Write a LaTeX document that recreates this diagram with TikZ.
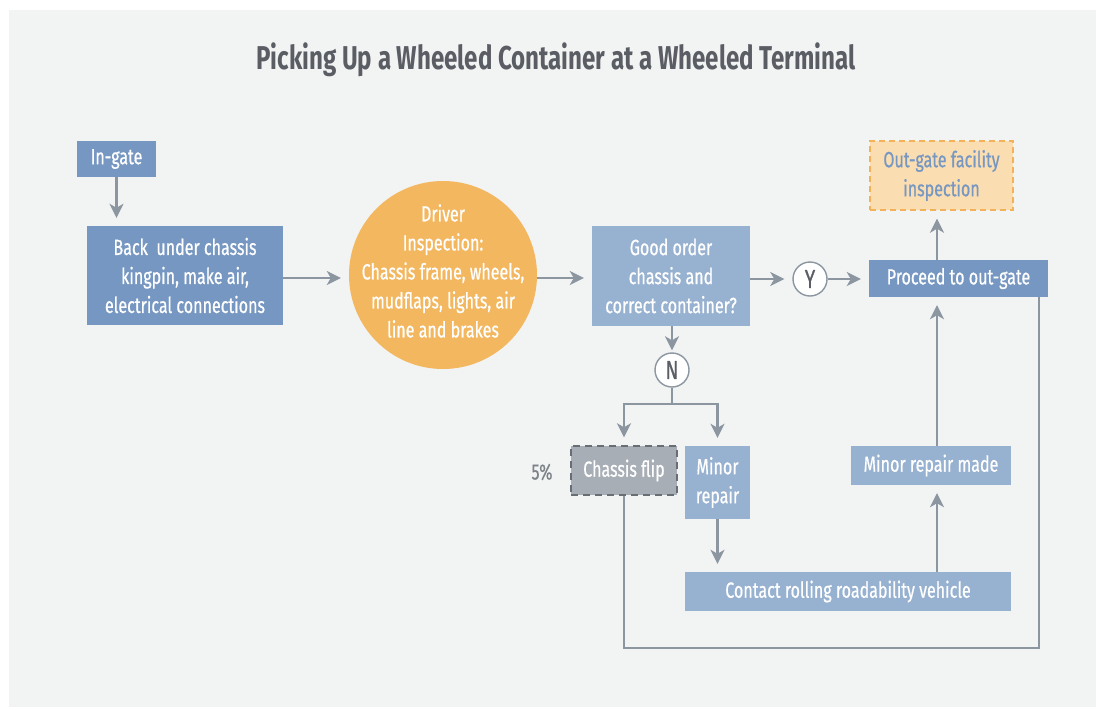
\documentclass[tikz,border=0pt]{standalone}
\usepackage{fontspec}
\setmainfont{Fira Sans}[FakeStretch=0.73, UprightFeatures={FakeBold=0.6}]
\usetikzlibrary{arrows.meta,calc}
\definecolor{panel}{RGB}{242,243,243}
\definecolor{midblue}{RGB}{118,151,193}
\definecolor{lightblue}{RGB}{151,177,208}
\definecolor{orangefill}{RGB}{243,183,96}
\definecolor{peach}{RGB}{251,221,178}
\definecolor{peachline}{RGB}{243,178,90}
\definecolor{flipgray}{RGB}{168,174,181}
\definecolor{flipline}{RGB}{105,110,116}
\definecolor{linkgray}{RGB}{139,150,160}
\definecolor{titlegray}{RGB}{90,93,100}
\definecolor{labelgray}{RGB}{125,130,136}
\begin{document}
\begin{tikzpicture}[x=1pt,y=-1pt,
  txt/.style={font=\fontsize{22}{29}\selectfont, align=center, text=white, inner sep=0pt},
  box/.style={txt, rectangle, fill=midblue},
  lbox/.style={txt, rectangle, fill=lightblue},
  yn/.style={circle, draw=linkgray, line width=1.4pt, fill=white, minimum size=34pt,
    inner sep=0pt, font=\fontsize{26}{26}\selectfont, text=titlegray},
  link/.style={draw=linkgray, line width=2.8pt},
  arr/.style={link, -{Stealth[length=14pt,width=14pt,inset=4pt]}, shorten >=8pt}
]
\useasboundingbox (0,0) rectangle (1096,710);
\fill[white] (0,0) rectangle (1096,710);
\fill[panel] (9,10) rectangle (1096,707);

% title
\node[font=\fontsize{33}{33}\selectfont\bfseries, text=titlegray] (title) at (556,60)
  {Picking Up a Wheeled Container at a Wheeled Terminal};

% process steps
\node[box, minimum width=79pt, minimum height=36pt] (ingate) at (116.5,159) {In-gate};
\node[box, minimum width=196pt, minimum height=99pt] (back) at (185,275.5)
  {Back\ \ under chassis\\ kingpin, make air,\\ electrical connections};
\node[circle, fill=orangefill, inner sep=0pt, minimum size=188pt] (insp) at (443,275) {};
\node[txt] (insptext) at (443,271)
  {Driver\\ Inspection:\\ Chassis frame, wheels,\\ mudflaps, lights, air\\ line and brakes};
\node[lbox, minimum width=158pt, minimum height=100pt] (good) at (671,276)
  {Good order\\ chassis and\\ correct container?};
\node[yn] (yes) at (810,279) {Y};
\node[box, minimum width=179pt, minimum height=37pt] (proc) at (958.5,278.5)
  {Proceed to out-gate};
\node[txt, rectangle, fill=peach, draw=peachline, line width=1.4pt,
  dash pattern=on 6pt off 4pt, text=midblue,
  minimum width=143pt, minimum height=69pt] (outg) at (941.5,175.5)
  {Out-gate facility\\ inspection};
\node[yn] (no) at (672,370) {N};
\node[txt, rectangle, fill=flipgray, draw=flipline, line width=1.4pt,
  dash pattern=on 7pt off 5pt,
  minimum width=106pt, minimum height=49pt] (flip) at (624,470.5) {Chassis flip};
\node[txt, text=labelgray] (pct) at (542,472) {5\%};
\node[lbox, minimum width=65pt, minimum height=73pt] (minor) at (717.5,482.5)
  {Minor\\ repair};
\node[lbox, minimum width=326pt, minimum height=39pt] (contact) at (848,591.5)
  {Contact rolling roadability vehicle};
\node[lbox, minimum width=160pt, minimum height=39pt] (made) at (931,465.5)
  {Minor repair made};

% helper points for the routed links
\coordinate (colx) at (937,0);
\coordinate (split) at (672,404);
\coordinate (loopc) at (1039,648);

% connectors
\draw[arr] (ingate.south) -- (back.north -| ingate.south);
\draw[arr] (back.east |- 0,278) -- (insp.west |- 0,278);
\draw[arr] (insp.east |- 0,278) -- (good.west |- 0,278);
\draw[arr] (good.east |- yes) -- (yes);
\draw[arr] (yes) -- (proc.west |- yes);
\draw[arr] (proc.north -| colx) -- (outg.south -| colx);
\draw[arr, shorten >=2pt] (good.south -| no) -- (no);
\draw[link] (no) -- (split);
\draw[arr, line join=miter] (split) -| (flip.north);
\draw[arr, line join=miter] (split) -| (minor.north);
\draw[arr] (minor) -- (contact.north -| minor);
\draw[arr] (contact.north -| colx) -- (made.south -| colx);
\draw[arr] (made.north -| colx) -- (proc.south -| colx);
\draw[link, line join=miter] (flip.south) |- (loopc) -- (proc.south -| loopc);
\end{tikzpicture}
\end{document}
